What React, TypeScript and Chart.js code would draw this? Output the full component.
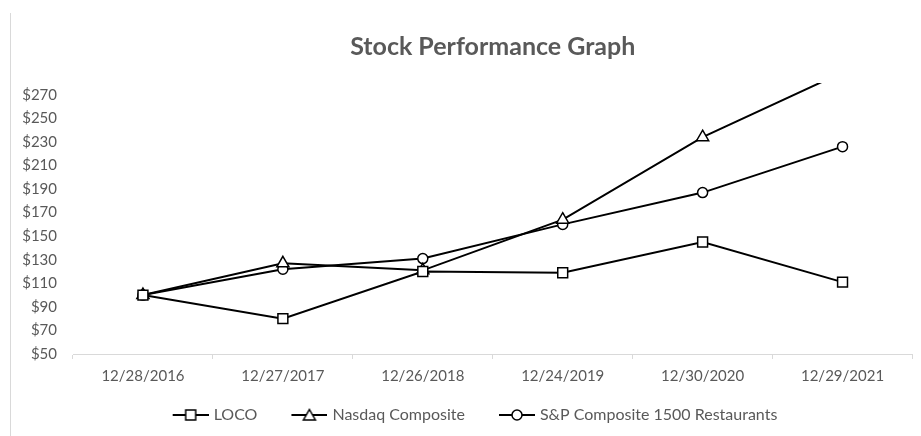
import React, { useEffect, useRef } from 'react';
import { Chart, registerables } from 'chart.js';

Chart.register(...registerables);

const categories = ['12/28/2016', '12/27/2017', '12/26/2018', '12/24/2019', '12/30/2020', '12/29/2021'];
const locoValues = [100, 80, 120, 119, 145, 111];
const nasdaqValues = [100, 127, 121, 164, 234, 289];
const spValues = [100, 122, 131, 160, 187, 226];
const seriesNames = ['LOCO', 'Nasdaq Composite', 'S&P Composite 1500 Restaurants'];
const titleText = 'Stock Performance Graph';
const yTickValues = [50, 70, 90, 110, 130, 150, 170, 190, 210, 230, 250, 270];
const yMin = 50;
const yMax = 280;

const FONT = 'Lato, "Open Sans", sans-serif';
const TEXT_COLOR = '#595959';
const ICON_BOX = 50; // legend box width
const ICON_LINE = 36;
const ICON_EXTRA = 3;

function makeLegendIcon(kind: string): HTMLCanvasElement {
  const c = document.createElement('canvas');
  c.width = ICON_BOX + 2 * ICON_EXTRA;
  c.height = 14;
  const ctx = c.getContext('2d')!;
  const x1 = c.width;
  const x0 = x1 - ICON_LINE;
  const cx = x0 + ICON_LINE / 2;
  ctx.strokeStyle = '#000';
  ctx.lineWidth = 2;
  ctx.beginPath();
  ctx.moveTo(x0, 7);
  ctx.lineTo(x1, 7);
  ctx.stroke();
  ctx.fillStyle = '#fff';
  ctx.lineWidth = 1.5;
  ctx.beginPath();
  if (kind === 'rect') {
    ctx.rect(cx - 5, 2, 10, 10);
  } else if (kind === 'triangle') {
    ctx.moveTo(cx, 1.5);
    ctx.lineTo(cx + 6, 12);
    ctx.lineTo(cx - 6, 12);
    ctx.closePath();
  } else {
    ctx.arc(cx, 7, 5, 0, Math.PI * 2);
  }
  ctx.fill();
  ctx.stroke();
  return c;
}

const borderPlugin = {
  id: 'leftBorder',
  beforeDraw(chart: any) {
    const ctx = chart.ctx;
    ctx.save();
    ctx.fillStyle = '#fff';
    ctx.fillRect(0, 0, chart.width, chart.height);
    ctx.strokeStyle = '#d9d9d9';
    ctx.lineWidth = 1;
    ctx.beginPath();
    ctx.moveTo(10.5, 13);
    ctx.lineTo(10.5, chart.height);
    ctx.stroke();
    ctx.restore();
  },
};

export default function App() {
  const canvasRef = useRef<HTMLCanvasElement | null>(null);

  useEffect(() => {
    if (!canvasRef.current) return;
    const styles = ['rect', 'triangle', 'circle'];
    const icons = styles.map(makeLegendIcon);
    const values = [locoValues, nasdaqValues, spValues];
    const radii = [7, 7, 5];

    const chart = new Chart(canvasRef.current, {
      type: 'line',
      data: {
        labels: categories,
        datasets: values.map((v, i) => ({
          label: seriesNames[i],
          data: v,
          borderColor: '#000',
          borderWidth: 2,
          pointStyle: styles[i] as any,
          pointRadius: radii[i],
          pointBackgroundColor: '#fff',
          pointBorderColor: '#000',
          pointBorderWidth: 1.5,
          tension: 0,
          fill: false,
        })),
      },
      options: {
        animation: false,
        responsive: false,
        devicePixelRatio: 1,
        layout: { padding: { left: 20, right: 8, top: 0, bottom: 3 } },
        plugins: {
          title: {
            display: true,
            text: titleText,
            color: TEXT_COLOR,
            font: { family: FONT, size: 25, weight: 'bold', lineHeight: 1.2 },
            padding: { top: 32, bottom: 21 },
            fullSize: false,
          },
          legend: {
            position: 'bottom',
            labels: {
              usePointStyle: true,
              pointStyleWidth: ICON_BOX,
              padding: 17,
              color: TEXT_COLOR,
              font: { family: FONT, size: 16 },
              generateLabels: (ch: any) =>
                ch.data.datasets.map((ds: any, i: number) => ({
                  text: ds.label,
                  pointStyle: icons[i],
                  fillStyle: '#fff',
                  strokeStyle: '#000',
                  lineWidth: 0,
                  hidden: false,
                  datasetIndex: i,
                  fontColor: TEXT_COLOR,
                })),
            },
          },
          tooltip: { enabled: false },
        },
        scales: {
          x: {
            offset: true,
            grid: {
              display: true,
              drawOnChartArea: false,
              drawTicks: true,
              tickLength: 5,
              offset: true,
              color: '#d9d9d9',
            },
            border: { display: true, color: '#d9d9d9', width: 1 },
            ticks: {
              color: TEXT_COLOR,
              font: { family: FONT, size: 15 },
              padding: 8,
              maxRotation: 0,
              autoSkip: false,
            },
            afterFit: (s: any) => {
              s.height = 36;
            },
          },
          y: {
            min: yMin,
            max: yMax,
            grid: { display: false, drawTicks: false },
            border: { display: false },
            ticks: {
              color: TEXT_COLOR,
              font: { family: FONT, size: 15 },
              padding: 16,
              autoSkip: false,
              callback: (v: any) => '$' + v,
            },
            afterBuildTicks: (s: any) => {
              s.ticks = yTickValues.map((v) => ({ value: v }));
            },
            afterFit: (s: any) => {
              s.width = 53;
            },
          },
        },
      },
      plugins: [borderPlugin],
    } as any);

    return () => chart.destroy();
  }, []);

  return (
    <div style={{ position: 'fixed', left: 0, top: 0, width: 921, height: 436, background: '#fff' }}>
      <canvas ref={canvasRef} width={921} height={436} style={{ display: 'block' }} />
    </div>
  );
}
